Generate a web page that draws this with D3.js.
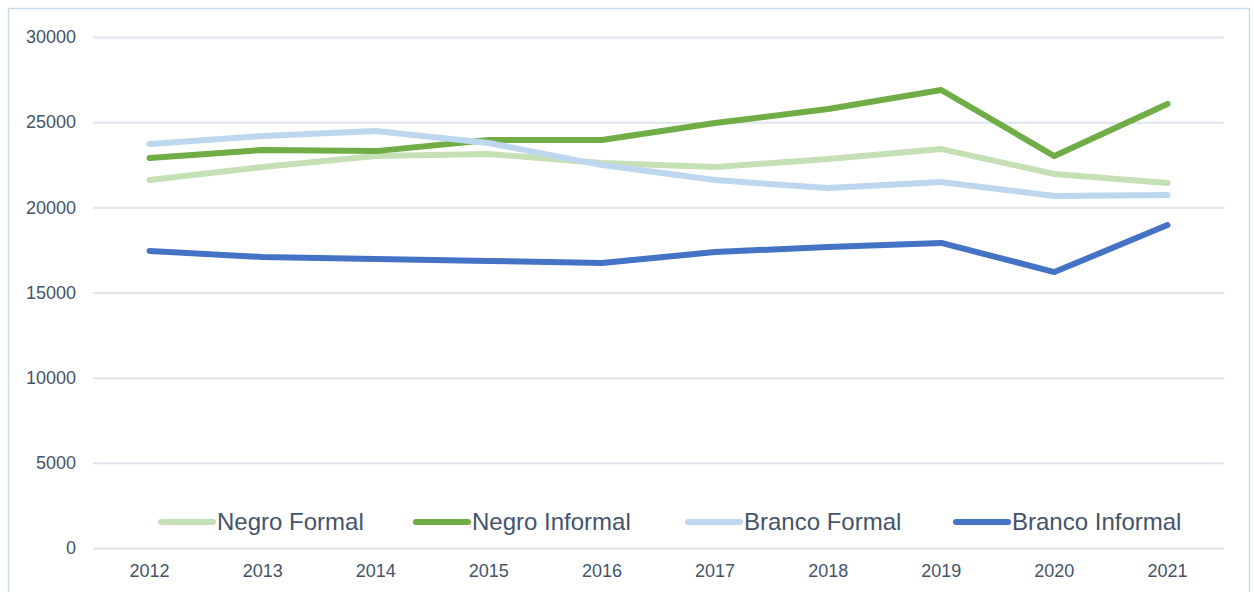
<!DOCTYPE html>
<html>
<head>
<meta charset="utf-8">
<script src="https://cdn.jsdelivr.net/npm/d3@7"></script>
<style>
  body { margin: 0; background: #fff; }
  text { font-family: "Liberation Sans", Arial, sans-serif; fill: #44546a; }
</style>
</head>
<body>
<div id="chart"></div>
<script>
// data
var years = ["2012", "2013", "2014", "2015", "2016", "2017", "2018", "2019", "2020", "2021"];
var negroFormal    = [21600, 22370, 23010, 23130, 22600, 22370, 22840, 23420, 21960, 21430];
var negroInformal  = [22900, 23370, 23300, 23950, 23950, 24950, 25770, 26890, 23010, 26070];
var brancoFormal   = [23720, 24190, 24480, 23780, 22480, 21600, 21130, 21490, 20660, 20720];
var brancoInformal = [17440, 17080, 16970, 16850, 16730, 17380, 17670, 17910, 16200, 18960];
var yTicks = [0, 5000, 10000, 15000, 20000, 25000, 30000];

var series = [
  { name: "Negro Formal",    values: negroFormal,    color: "#c5e0b4" },
  { name: "Negro Informal",  values: negroInformal,  color: "#70ad47" },
  { name: "Branco Formal",   values: brancoFormal,   color: "#bdd7ee" },
  { name: "Branco Informal", values: brancoInformal, color: "#4472c4" }
];

var W = 1254, H = 592;
var margin = { top: 37, right: 30, bottom: 44, left: 93 };
var width = W - margin.left - margin.right,
    height = H - margin.top - margin.bottom;

var svg = d3.select("#chart").append("svg")
    .attr("width", W)
    .attr("height", H);

// outer border
svg.append("rect")
    .attr("x", 8.5).attr("y", 8.5)
    .attr("width", W - 13).attr("height", H)
    .attr("fill", "none")
    .attr("stroke", "#c9dcef")
    .attr("stroke-width", 1.5);

var g = svg.append("g")
    .attr("transform", "translate(" + margin.left + "," + margin.top + ")");

var x = d3.scaleBand().domain(years).range([0, width]);
var y = d3.scaleLinear().domain([0, 30000]).range([height, 0]);

// gridlines + y labels
var yAxis = d3.axisLeft(y)
    .tickValues(yTicks)
    .tickSize(-width)
    .tickPadding(17)
    .tickFormat(d3.format("d"));

g.append("g")
    .attr("class", "y axis")
    .call(yAxis)
    .call(function(s) {
      s.select(".domain").remove();
      s.selectAll(".tick line").attr("stroke", "#e0e4ec").attr("stroke-width", 2);
      s.selectAll(".tick text").style("font-size", "18px").attr("fill", "#44546a");
    });

// x labels
var xAxis = d3.axisBottom(x).tickSize(0).tickPadding(16);
g.append("g")
    .attr("class", "x axis")
    .attr("transform", "translate(0," + height + ")")
    .call(xAxis)
    .call(function(s) {
      s.select(".domain").remove();
      s.selectAll(".tick text").style("font-size", "18px").attr("fill", "#44546a");
    });

var line = d3.line()
    .x(function(d, i) { return x(years[i]) + x.bandwidth() / 2; })
    .y(function(d) { return y(d); });

g.selectAll(".series")
    .data(series)
    .enter().append("path")
    .attr("class", "series")
    .attr("d", function(d) { return line(d.values); })
    .attr("fill", "none")
    .attr("stroke", function(d) { return d.color; })
    .attr("stroke-width", 6)
    .attr("stroke-linecap", "round")
    .attr("stroke-linejoin", "round");

// legend
var legendX = [161, 416, 688, 956];
var legend = svg.selectAll(".legend")
    .data(series)
    .enter().append("g")
    .attr("class", "legend")
    .attr("transform", function(d, i) { return "translate(" + legendX[i] + ",522)"; });

legend.append("line")
    .attr("x1", 0).attr("x2", 52)
    .attr("stroke", function(d) { return d.color; })
    .attr("stroke-width", 6)
    .attr("stroke-linecap", "round");

legend.append("text")
    .attr("x", 56)
    .attr("dy", "0.35em")
    .style("font-size", "24px")
    .text(function(d) { return d.name; });
</script>
</body>
</html>
